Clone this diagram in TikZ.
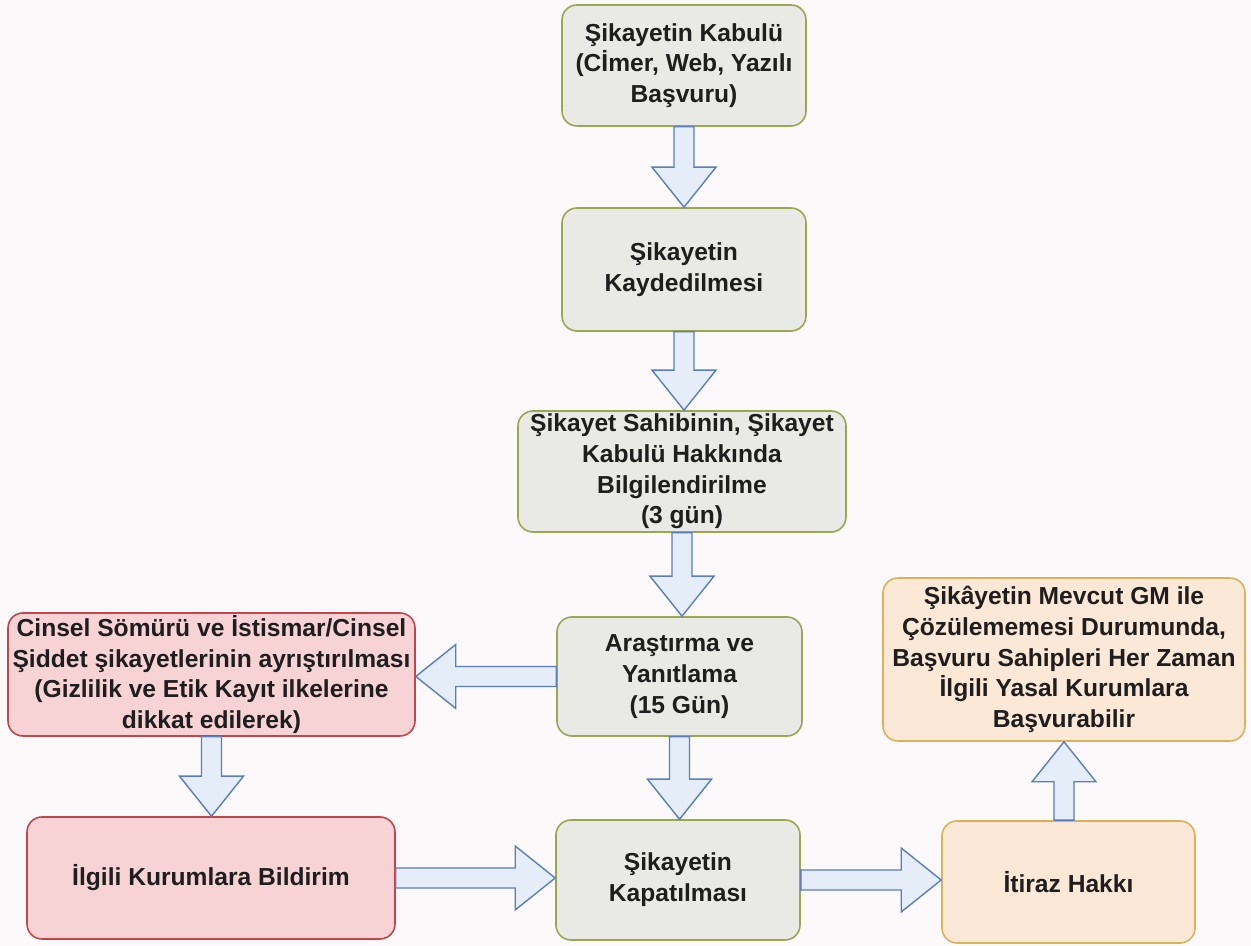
\documentclass[tikz,border=0pt]{standalone}
\usepackage{fontspec}
\setmainfont{Liberation Sans}
\usetikzlibrary{calc}

\definecolor{greyfill}{HTML}{E9E9E6}
\definecolor{greyline}{HTML}{97A84E}
\definecolor{redfill}{HTML}{F7D3D6}
\definecolor{redline}{HTML}{C0464B}
\definecolor{peachfill}{HTML}{FCE8D6}
\definecolor{peachline}{HTML}{DDB15A}
\definecolor{arrowfill}{HTML}{E5EDF8}
\definecolor{arrowline}{HTML}{5B7DB9}
\definecolor{inktext}{HTML}{1E1E1E}
\definecolor{paper}{HTML}{FCF9FA}

% wide hollow arrow from #1 to #2
\newcommand{\fatarrow}[2]{%
  \draw[fatarrow] let \p1=(#1), \p2=(#2),
      \n1={atan2(\y2-\y1,\x2-\x1)},
      \n2={veclen(\x2-\x1,\y2-\y1)},
      \n3={veclen(\x2-\x1,\y2-\y1)-22.76} in
    [shift={(\x1,\y1)},rotate=\n1]
    (0pt,-5.69pt) -- (\n3,-5.69pt) -- (\n3,-18.2pt) -- (\n2,0pt)
    -- (\n3,18.2pt) -- (\n3,5.69pt) -- (0pt,5.69pt) -- cycle;}

\begin{document}
\begin{tikzpicture}[
    x=1cm,
    y=1cm,
    box/.style={rounded corners=0.3cm,line width=0.9pt,align=center,
      inner sep=0pt,text=inktext,
      font=\fontsize{14}{17.5}\selectfont\bfseries},
    greybox/.style={box,draw=greyline,fill=greyfill},
    redbox/.style={box,draw=redline,fill=redfill},
    peachbox/.style={box,draw=peachline,fill=peachfill},
    fatarrow/.style={draw=arrowline,fill=arrowfill,line width=0.8pt,
      line join=miter}
  ]
    \fill[paper] (0,0) rectangle (25.02,18.92);
    \useasboundingbox (0,0) rectangle (25.02,18.92);

    % main column
    \node[greybox,minimum width=4.88cm,minimum height=2.42cm]
      (kabul) at (13.68,17.61)
      {Şikayetin Kabulü\\(Cİmer, Web, Yazılı\\Başvuru)};
    \node[greybox,minimum width=4.88cm,minimum height=2.46cm]
      (kayit) at (13.68,13.53)
      {Şikayetin\\Kaydedilmesi};
    \node[greybox,minimum width=6.56cm,minimum height=2.42cm]
      (bilgi) at (13.64,9.49)
      {Şikayet Sahibinin, Şikayet\\Kabulü Hakkında\\Bilgilendirilme\\(3 gün)};
    \node[greybox,minimum width=4.90cm,minimum height=2.38cm]
      (arastirma) at (13.59,5.39)
      {Araştırma ve\\Yanıtlama\\(15 Gün)};
    \node[greybox,minimum width=4.88cm,minimum height=2.40cm]
      (kapat) at (13.56,1.32)
      {Şikayetin\\Kapatılması};

    % left column
    \node[redbox,minimum width=8.14cm,minimum height=2.46cm]
      (ayir) at (4.23,5.43)
      {Cinsel Sömürü ve İstismar/Cinsel\\Şiddet şikayetlerinin ayrıştırılması\\(Gizlilik ve Etik Kayıt ilkelerine\\dikkat edilerek)};
    \node[redbox,minimum width=7.36cm,minimum height=2.44cm]
      (bildir) at (4.22,1.36)
      {İlgili Kurumlara Bildirim};

    % right column
    \node[peachbox,minimum width=5.06cm,minimum height=2.44cm]
      (itiraz) at (21.37,1.28)
      {İtiraz Hakkı};
    \node[peachbox,minimum width=7.24cm,minimum height=3.26cm]
      (yasal) at (21.28,5.73)
      {Şikâyetin Mevcut GM ile\\Çözülememesi Durumunda,\\Başvuru Sahipleri Her Zaman\\İlgili Yasal Kurumlara\\Başvurabilir};

    \fatarrow{kabul.south}{kabul.south |- kayit.north}
    \fatarrow{kayit.south}{kayit.south |- bilgi.north}
    \fatarrow{bilgi.south}{bilgi.south |- arastirma.north}
    \fatarrow{arastirma.south}{arastirma.south |- kapat.north}
    \fatarrow{arastirma.west}{arastirma.west -| ayir.east}
    \fatarrow{ayir.south}{ayir.south |- bildir.north}
    \fatarrow{bildir.east}{bildir.east -| kapat.west}
    \fatarrow{kapat.east}{kapat.east -| itiraz.west}
    \fatarrow{yasal.south |- itiraz.north}{yasal.south}
  \end{tikzpicture}
\end{document}
